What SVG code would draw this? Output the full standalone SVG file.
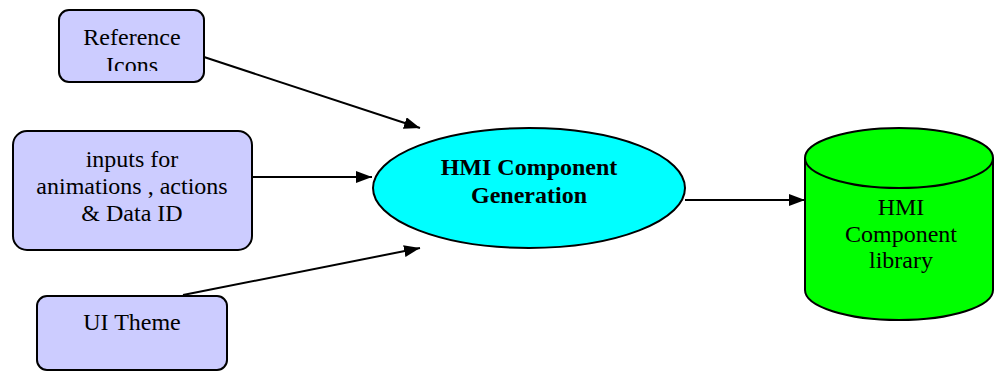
<svg xmlns="http://www.w3.org/2000/svg" width="995" height="371" viewBox="0 0 995 371">
<style>
.box{fill:#CCCCFF;stroke:#000;stroke-width:2}
.t{font-family:"Liberation Serif","Times New Roman",serif;font-size:24px;fill:#000;text-anchor:middle}
.b{font-weight:bold}
.c{stroke:#000;stroke-width:2;fill:none;marker-end:url(#ah)}
</style>
<defs>
<marker id="ah" viewBox="0 0 16 12" refX="16" refY="6" markerWidth="16" markerHeight="12" markerUnits="userSpaceOnUse" orient="auto">
<path d="M0,0 L16,6 L0,12 Z" fill="#000"/>
</marker>
<clipPath id="clip1"><rect x="55" y="5" width="160" height="66"/></clipPath>
</defs>
<g id="connectors">
<line class="c" x1="204" y1="57" x2="420" y2="128"/>
<line class="c" x1="252" y1="177" x2="372" y2="177"/>
<line class="c" x1="183" y1="295" x2="420" y2="248"/>
<line class="c" x1="685" y1="200" x2="805" y2="200"/>
</g>
<g id="reference-icons">
<rect class="box" x="59" y="10" width="145" height="72" rx="10"/>
<g clip-path="url(#clip1)">
<text class="t" x="132" y="45">Reference</text>
<text class="t" x="132" y="73">Icons</text>
</g>
</g>
<g id="inputs">
<rect class="box" x="13" y="131" width="239" height="119" rx="14"/>
<text class="t" x="132" y="167">inputs for</text>
<text class="t" x="132" y="194">animations , actions</text>
<text class="t" x="132" y="221">&amp; Data ID</text>
</g>
<g id="ui-theme">
<rect class="box" x="37" y="296" width="190" height="74" rx="10"/>
<text class="t" x="132" y="330">UI Theme</text>
</g>
<g id="hmi-generation">
<ellipse cx="529" cy="188" rx="156" ry="60" fill="#00FFFF" stroke="#000" stroke-width="2"/>
<text class="t b" x="529" y="175">HMI Component</text>
<text class="t b" x="529" y="203">Generation</text>
</g>
<g id="hmi-library">
<path d="M805,158 L805,290 A94,30 0 0 0 993,290 L993,158" fill="#00FF00" stroke="#000" stroke-width="2"/>
<ellipse cx="899" cy="158" rx="94" ry="30" fill="#00FF00" stroke="#000" stroke-width="2"/>
<text class="t" x="901" y="215">HMI</text>
<text class="t" x="901" y="242">Component</text>
<text class="t" x="901" y="268">library</text>
</g>
</svg>
